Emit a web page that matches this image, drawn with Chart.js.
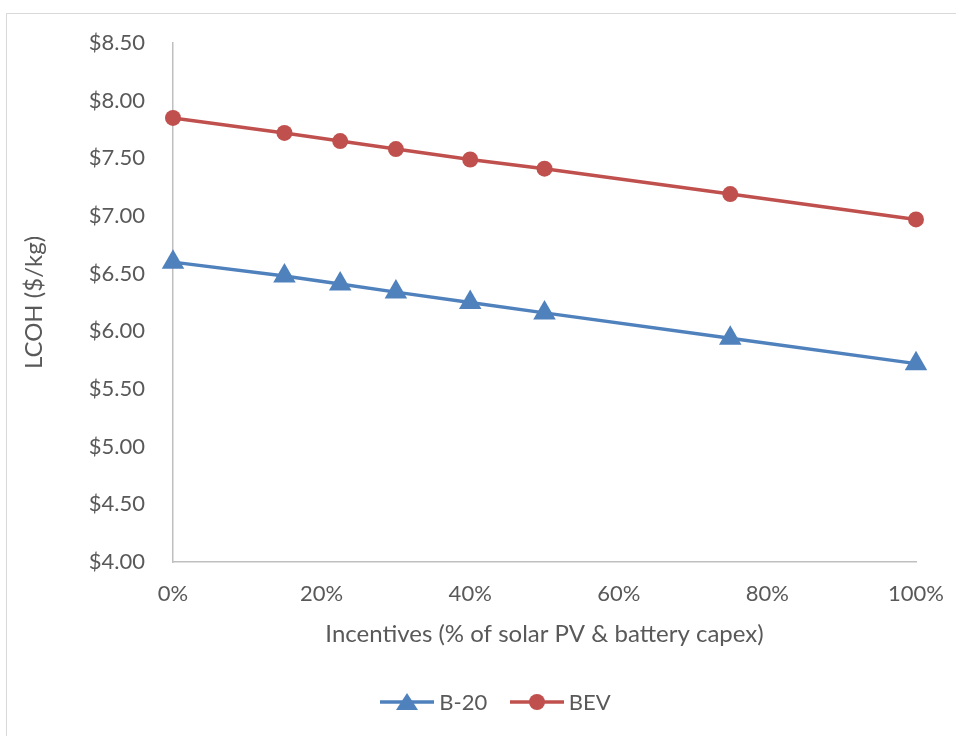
<!DOCTYPE html>
<html>
<head>
<meta charset="utf-8">
<script src="https://cdn.jsdelivr.net/npm/chart.js@4/dist/chart.umd.min.js"></script>
<style>
  html, body { margin: 0; padding: 0; background: #fff; }
  #wrap { position: relative; width: 956px; height: 736px; overflow: hidden; }
  #frame { position: absolute; left: 6px; top: 13px; width: 1000px; height: 800px;
           border: 1px solid #d9d9d9; box-sizing: border-box; }
  #chart { position: absolute; left: 0; top: 0; }
  #legend { position: absolute; left: 0; top: 688px; width: 990px; text-align: center;
            font-family: Lato, "Open Sans", sans-serif; font-size: 22px; color: #595959; }
  .item { display: inline-flex; align-items: center; margin: 0 8px; }
  .item svg { margin-right: 4px; }
</style>
</head>
<body>
<div id="wrap">
  <div id="frame"></div>
  <canvas id="chart" width="956" height="736"></canvas>
  <div id="legend">
    <span class="item"><svg width="56" height="22"><line x1="1" y1="11" x2="55" y2="11" stroke="#4F81BD" stroke-width="3.5"/><polygon points="28,2 39,19 17,19" fill="#4F81BD"/></svg>B-20</span>
    <span class="item"><svg width="56" height="22"><line x1="1" y1="11" x2="55" y2="11" stroke="#C0504D" stroke-width="3.5"/><circle cx="28" cy="11" r="8" fill="#C0504D"/></svg>BEV</span>
  </div>
</div>
<script>
// Incentive levels (% of solar PV & battery capex)
const incentives = [0, 15, 22.5, 30, 40, 50, 75, 100];
// Levelized cost of hydrogen, $/kg
const lcohB20 = [6.60, 6.48, 6.41, 6.34, 6.25, 6.16, 5.94, 5.72];
const lcohBEV = [7.85, 7.72, 7.65, 7.58, 7.49, 7.41, 7.19, 6.97];
const seriesNames = ['B-20', 'BEV'];
const xTicks = [0, 20, 40, 60, 80, 100];
const yTicks = [4.0, 4.5, 5.0, 5.5, 6.0, 6.5, 7.0, 7.5, 8.0, 8.5];

const toPoints = vals => incentives.map((x, i) => ({ x: x, y: vals[i] }));
const FONT = 'Lato, "Open Sans", sans-serif';
const TXT = '#595959';

new Chart(document.getElementById('chart'), {
  type: 'line',
  data: {
    datasets: [
      {
        label: seriesNames[0], data: toPoints(lcohB20), clip: false,
        borderColor: '#4F81BD', backgroundColor: '#4F81BD', borderWidth: 3.5,
        pointStyle: 'triangle', pointRadius: 13, pointBorderWidth: 0, tension: 0
      },
      {
        label: seriesNames[1], data: toPoints(lcohBEV), clip: false,
        borderColor: '#C0504D', backgroundColor: '#C0504D', borderWidth: 3.5,
        pointStyle: 'circle', pointRadius: 8, pointBorderWidth: 0, tension: 0
      }
    ]
  },
  options: {
    responsive: false, animation: false, devicePixelRatio: 1,
    layout: { padding: { left: 0, right: 40, top: 43, bottom: 74 } },
    plugins: { legend: { display: false }, tooltip: { enabled: false } },
    scales: {
      x: {
        type: 'linear', min: 0, max: 100,
        afterBuildTicks: s => { s.ticks = xTicks.map(v => ({ value: v })); },
        afterFit: s => { s.height = 100; s.paddingLeft = 0; s.paddingRight = 0; },
        grid: { display: true, drawOnChartArea: false, drawTicks: false },
        border: { display: true, color: '#bfbfbf', width: 1.5 },
        ticks: { padding: 19, color: TXT, font: { family: FONT, size: 22 },
                 callback: v => v + '%', maxRotation: 0 },
        title: { display: true, text: 'Incentives (% of solar PV & battery capex)',
                 color: TXT, font: { family: FONT, size: 24 }, padding: { top: 0, bottom: 13 } }
      },
      y: {
        type: 'linear', min: 4, max: 8.5,
        afterBuildTicks: s => { s.ticks = yTicks.map(v => ({ value: v })); },
        afterFit: s => { s.width = 173; s.paddingTop = 0; s.paddingBottom = 0; },
        grid: { display: true, drawOnChartArea: false, drawTicks: false },
        border: { display: true, color: '#bfbfbf', width: 1.5 },
        ticks: { padding: 28, color: TXT, font: { family: FONT, size: 22 },
                 callback: v => '$' + v.toFixed(2) },
        title: { display: true, text: 'LCOH ($/kg)',
                 color: TXT, font: { family: FONT, size: 24 }, padding: { top: 20, bottom: 0 } }
      }
    }
  }
});
</script>
</body>
</html>
